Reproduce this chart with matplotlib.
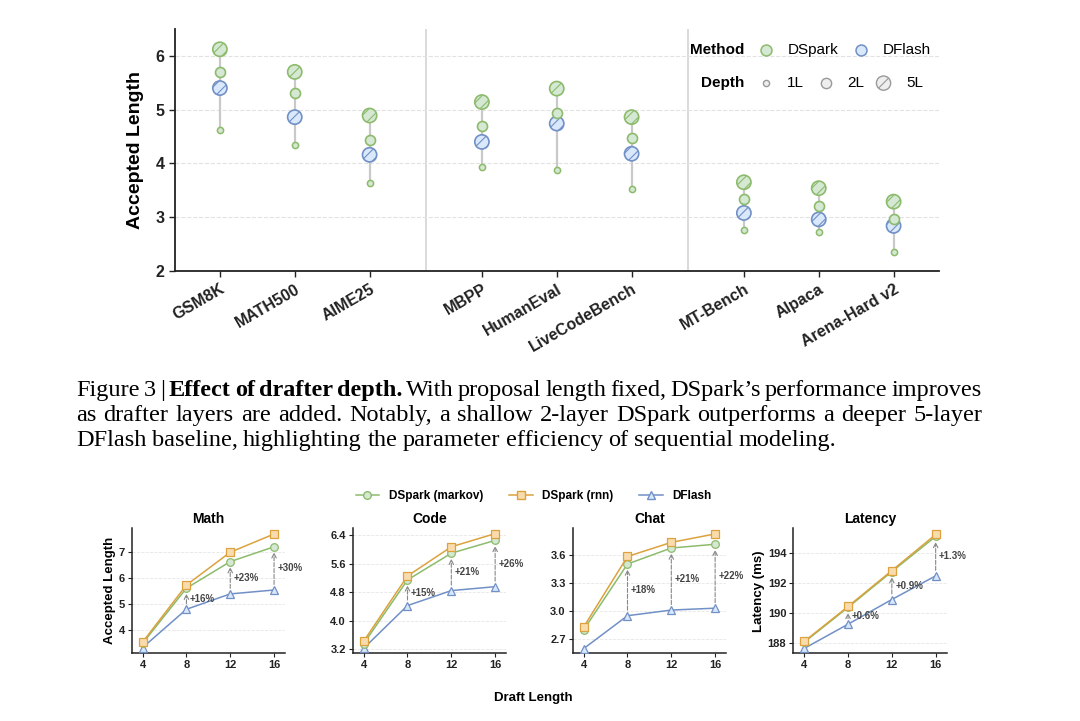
import matplotlib
matplotlib.use('Agg')
import matplotlib.pyplot as plt
from matplotlib.lines import Line2D

plt.rcParams['font.family'] = ['Liberation Sans', 'DejaVu Sans']

# ---- top panel data: accepted length by benchmark and drafter depth ----
benchmarks = ['GSM8K', 'MATH500', 'AIME25', 'MBPP', 'HumanEval', 'LiveCodeBench',
              'MT-Bench', 'Alpaca', 'Arena-Hard v2']
dspark_1l = [4.63, 4.35, 3.63, 3.93, 3.87, 3.53, 2.77, 2.72, 2.35]
dspark_2l = [5.70, 5.31, 4.44, 4.69, 4.94, 4.47, 3.34, 3.20, 2.97]
dspark_5l = [6.12, 5.70, 4.89, 5.14, 5.39, 4.86, 3.65, 3.54, 3.29]
dflash_5l = [5.40, 4.86, 4.16, 4.40, 4.74, 4.18, 3.08, 2.96, 2.84]

# ---- bottom panels data: draft length sweep ----
draft_len = [4, 8, 12, 16]
math_markov = [3.48, 5.60, 6.62, 7.19]
math_rnn = [3.53, 5.72, 6.98, 7.68]
math_dflash = [3.32, 4.79, 5.38, 5.53]
code_markov = [3.36, 5.15, 5.90, 6.26]
code_rnn = [3.43, 5.26, 6.08, 6.45]
code_dflash = [3.23, 4.43, 4.85, 4.96]
chat_markov = [2.80, 3.50, 3.67, 3.71]
chat_rnn = [2.83, 3.58, 3.73, 3.82]
chat_dflash = [2.60, 2.95, 3.01, 3.03]
lat_markov = [188.08, 190.38, 192.74, 195.06]
lat_rnn = [188.13, 190.44, 192.81, 195.19]
lat_dflash = [187.67, 189.27, 190.90, 192.46]
math_gain = ['+16%', '+23%', '+30%']
code_gain = ['+15%', '+21%', '+26%']
chat_gain = ['+18%', '+21%', '+22%']
lat_gain = ['+0.6%', '+0.9%', '+1.3%']

GREEN_E, GREEN_F = '#8dbb6c', '#d5e8d4'
BLUE_E, BLUE_F = '#7190c6', '#dae8fc'
ORANGE_E, ORANGE_F = '#dba23d', '#f9dcae'
DARK = '#222222'

fig = plt.figure(figsize=(10.8, 7.21), dpi=100)

# =================== top chart ===================
ax = fig.add_axes([0.162, 0.624, 0.707, 0.336])
pos = [i + 0.5 * (i // 3) for i in range(len(benchmarks))]

for x, a, b, c, d in zip(pos, dspark_1l, dspark_2l, dspark_5l, dflash_5l):
    ax.plot([x, x], [min(a, b, c, d), max(a, b, c, d)], color='#c9c9c9', lw=1.6, zorder=1)

def hatched(xs, ys, fc, ec, s):
    with plt.rc_context({'hatch.color': ec, 'hatch.linewidth': 0.8}):
        ax.scatter(xs, ys, s=s, facecolor=fc, edgecolor=ec, linewidth=1.2,
                   hatch='///', zorder=3)

hatched(pos, dflash_5l, BLUE_F, BLUE_E, 105)
hatched(pos, dspark_5l, GREEN_F, GREEN_E, 105)
ax.scatter(pos, dspark_2l, s=52, facecolor=GREEN_F, edgecolor=GREEN_E, linewidth=1.2, zorder=4)
ax.scatter(pos, dspark_1l, s=20, facecolor=GREEN_F, edgecolor=GREEN_E, linewidth=1.1, zorder=4)

for sep in [2.75, 6.25]:
    ax.axvline(sep, color='#d4d4d4', lw=1.2, zorder=0)

ax.set_xlim(-0.6, 9.6)
ax.set_ylim(2, 6.5)
ax.set_yticks([2, 3, 4, 5, 6])
ax.set_xticks(pos)
ax.set_xticklabels(benchmarks, rotation=30, ha='right', rotation_mode='anchor',
                   fontsize=11.5, fontweight='bold')
for lab in ax.get_yticklabels():
    lab.set_fontweight('bold')
    lab.set_fontsize(11.5)
for y in [3, 4, 5, 6]:
    ax.axhline(y, color='#e2e2e2', lw=0.8, ls='--', zorder=0)
ax.set_ylabel('Accepted Length', fontsize=14, fontweight='bold', labelpad=8)
for side in ['top', 'right']:
    ax.spines[side].set_visible(False)
for side in ['left', 'bottom']:
    ax.spines[side].set_color(DARK)
    ax.spines[side].set_linewidth(1.3)
ax.tick_params(colors=DARK, length=4, width=1.0)

# custom two-row legend (Method / Depth)
tr = ax.transAxes
ax.text(0.746, 0.913, 'Method', transform=tr, ha='right', va='center',
        fontsize=11, fontweight='bold')
ax.text(0.746, 0.776, 'Depth', transform=tr, ha='right', va='center',
        fontsize=11, fontweight='bold')
key = dict(transform=tr, clip_on=False, zorder=5)
ax.scatter([0.7736], [0.913], s=62, facecolor=GREEN_F, edgecolor=GREEN_E, linewidth=1.1, **key)
ax.text(0.802, 0.913, 'DSpark', transform=tr, va='center', fontsize=11)
ax.scatter([0.898], [0.913], s=62, facecolor=BLUE_F, edgecolor=BLUE_E, linewidth=1.1, **key)
ax.text(0.927, 0.913, 'DFlash', transform=tr, va='center', fontsize=11)
ax.scatter([0.7736], [0.776], s=20, facecolor='#eeeeee', edgecolor='#999999', linewidth=1.0, **key)
ax.text(0.801, 0.776, '1L', transform=tr, va='center', fontsize=11)
ax.scatter([0.852], [0.776], s=55, facecolor='#eeeeee', edgecolor='#999999', linewidth=1.0, **key)
ax.text(0.880, 0.776, '2L', transform=tr, va='center', fontsize=11)
with plt.rc_context({'hatch.color': '#999999', 'hatch.linewidth': 0.8}):
    ax.scatter([0.928], [0.776], s=105, facecolor='#eeeeee', edgecolor='#999999',
               linewidth=1.0, hatch='///', **key)
ax.text(0.958, 0.776, '5L', transform=tr, va='center', fontsize=11)

# =================== caption ===================
renderer = fig.canvas.get_renderer()
W, H = fig.bbox.width, fig.bbox.height
cap_kw = dict(family=['Liberation Serif', 'DejaVu Serif'], fontsize=17.5, va='baseline')

def caption_line(words, y_px, x0=76, x1=None):
    arts, widths = [], []
    for w, wt in words:
        t = fig.text(0, 1 - y_px / H, w, fontweight=wt, **cap_kw)
        arts.append(t)
        widths.append(t.get_window_extent(renderer).width)
    if x1 is None:
        gap = 5.5
    else:
        gap = max((x1 - x0 - sum(widths)) / (len(words) - 1), 2.0)
    x = x0
    for t, w in zip(arts, widths):
        t.set_x(x / W)
        x += w + gap

def split(text, weight='normal'):
    return [(w, weight) for w in text.split()]

line1 = (split('Figure 3 |') + split('Effect of drafter depth.', 'bold')
         + split('With proposal length fixed, DSpark\u2019s performance improves'))
line2 = split('as drafter layers are added. Notably, a shallow 2-layer DSpark outperforms a deeper 5-layer')
line3 = split('DFlash baseline, highlighting the parameter efficiency of sequential modeling.')
caption_line(line1, 396, x1=982)
caption_line(line2, 421, x1=982)
caption_line(line3, 446)

# =================== bottom panels ===================
panels = [
    ('Math', math_markov, math_rnn, math_dflash, math_gain, (3.1, 7.9), [4, 5, 6, 7], '{:.0f}', 'Accepted Length'),
    ('Code', code_markov, code_rnn, code_dflash, code_gain, (3.09, 6.6), [3.2, 4.0, 4.8, 5.6, 6.4], '{:.1f}', None),
    ('Chat', chat_markov, chat_rnn, chat_dflash, chat_gain, (2.55, 3.88), [2.7, 3.0, 3.3, 3.6], '{:.1f}', None),
    ('Latency', lat_markov, lat_rnn, lat_dflash, lat_gain, (187.35, 195.6), [188, 190, 192, 194], '{:.0f}', 'Latency (ms)'),
]
lefts = [0.1219, 0.3266, 0.5303, 0.7345]

for left, (title, mk, rn, df, gains, ylim, yt, fmt, ylab) in zip(lefts, panels):
    bx = fig.add_axes([left, 0.0939, 0.142, 0.1734])
    bx.plot(draft_len, df, color=BLUE_E, lw=1.1, marker='^', ms=5.5, mfc=BLUE_F, mec=BLUE_E, mew=0.9, zorder=3)
    bx.plot(draft_len, mk, color=GREEN_E, lw=1.1, marker='o', ms=5.5, mfc=GREEN_F, mec=GREEN_E, mew=0.9, zorder=4)
    bx.plot(draft_len, rn, color=ORANGE_E, lw=1.1, marker='s', ms=5.5, mfc=ORANGE_F, mec=ORANGE_E, mew=0.9, zorder=5)
    for x, lo, hi, g in zip(draft_len[1:], df[1:], mk[1:], gains):
        bx.annotate('', xy=(x, hi), xytext=(x, lo),
                    arrowprops=dict(arrowstyle='->', color='#888888', lw=0.8, ls='--',
                                    shrinkA=4, shrinkB=4, mutation_scale=8))
        bx.text(x + 0.3, (lo + hi) / 2, g, fontsize=7, fontweight='bold', color='#444444',
                ha='left', va='center')
    bx.set_xlim(3, 17)
    bx.set_xticks(draft_len)
    bx.set_ylim(*ylim)
    bx.set_yticks(yt)
    bx.set_yticklabels([fmt.format(v) for v in yt])
    for y in yt:
        bx.axhline(y, color='#e6e6e6', lw=0.6, ls='--', zorder=0)
    for lab in bx.get_xticklabels() + bx.get_yticklabels():
        lab.set_fontweight('bold')
        lab.set_fontsize(8)
    bx.set_title(title, fontsize=10, fontweight='bold', pad=4)
    if ylab:
        bx.set_ylabel(ylab, fontsize=9.5, fontweight='bold', labelpad=2)
    for side in ['top', 'right']:
        bx.spines[side].set_visible(False)
    for side in ['left', 'bottom']:
        bx.spines[side].set_color(DARK)
        bx.spines[side].set_linewidth(1.1)
    bx.tick_params(colors=DARK, length=3, width=0.8, pad=2)

handles = [
    Line2D([], [], color=GREEN_E, lw=1.1, marker='o', ms=5.5, mfc=GREEN_F, mec=GREEN_E),
    Line2D([], [], color=ORANGE_E, lw=1.1, marker='s', ms=5.5, mfc=ORANGE_F, mec=ORANGE_E),
    Line2D([], [], color=BLUE_E, lw=1.1, marker='^', ms=5.5, mfc=BLUE_F, mec=BLUE_E),
]
fig.legend(handles, ['DSpark (markov)', 'DSpark (rnn)', 'DFlash'], loc='center',
           bbox_to_anchor=(0.494, 0.312), ncol=3, frameon=False, handlelength=2.0,
           columnspacing=2.2, prop={'weight': 'bold', 'size': 8.5})
fig.text(0.494, 0.032, 'Draft Length', ha='center', va='center', fontsize=9.5, fontweight='bold')

fig.savefig('out.png', dpi=100)
